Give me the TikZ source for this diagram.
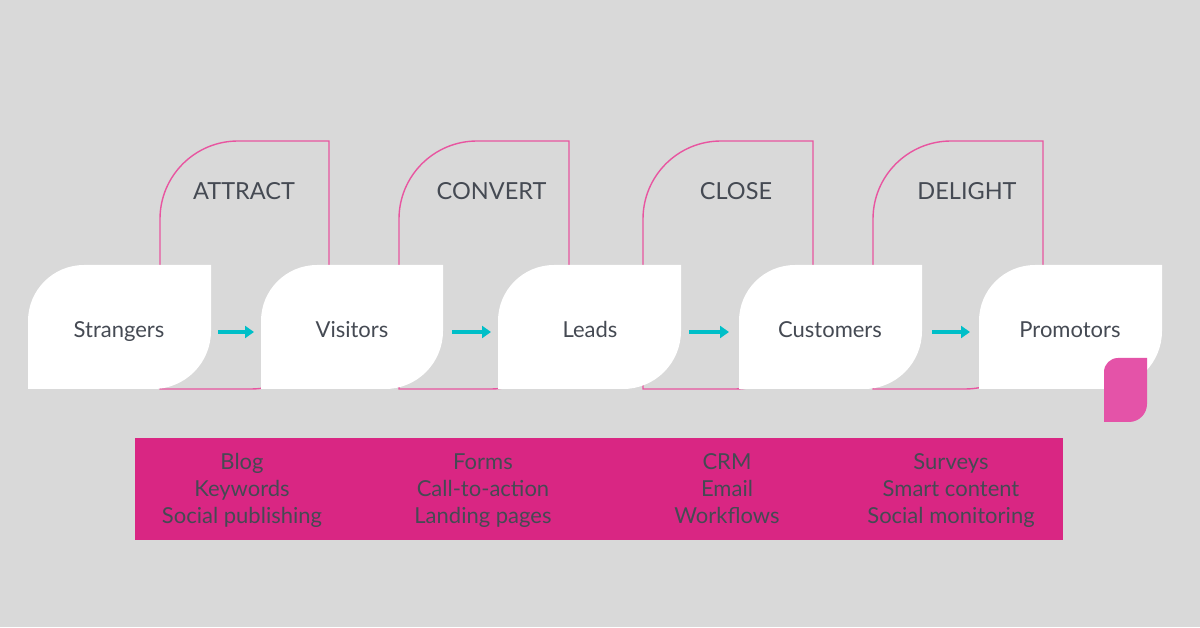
\documentclass[tikz,border=0pt]{standalone}
\usepackage{fontspec}
\setmainfont{Lato}
\usetikzlibrary{arrows.meta}
\definecolor{bggray}{HTML}{D9D9D9}
\definecolor{outlinepink}{HTML}{E855A0}
\definecolor{barpink}{HTML}{D92683}
\definecolor{tabpink}{HTML}{E453A8}
\definecolor{arrowcyan}{HTML}{00BFC8}
\definecolor{textgray}{HTML}{454A53}
\tikzset{
  outl/.style={draw=outlinepink, line width=1.4pt},
  stagebox/.style={inner sep=0pt, outer sep=0pt, minimum width=183pt, minimum height=124pt},
  stagelabel/.style={anchor=base, text=textgray, font=\fontsize{22}{26}\selectfont},
  phasetitle/.style={anchor=base, text=textgray, font=\fontsize{23.5}{28}\selectfont},
  tooltext/.style={anchor=base, text=textgray, font=\fontsize{22}{26}\selectfont},
  flowarrow/.style={draw=arrowcyan, line width=3.5pt, -{Triangle[length=9pt,width=12pt]}},
}
\newcommand{\phaseoutline}[2]{%
  \draw[outl] (#1,238) -- (#1,408) arc[start angle=180,end angle=90,radius=78pt]
    -- (#2,486) -- (#2,316) arc[start angle=0,end angle=-90,radius=78pt] -- cycle;}
\newcommand{\leaffill}[1]{%
  \fill[white] (#1.south west) -- ([yshift=-56pt]#1.north west)
    arc[start angle=180,end angle=90,radius=56pt]
    -- (#1.north east) -- ([yshift=58pt]#1.south east)
    arc[start angle=0,end angle=-90,radius=58pt] -- cycle;}
\begin{document}
\begin{tikzpicture}[x=1pt,y=1pt]
\fill[bggray] (0,0) rectangle (1200,627);
\useasboundingbox (0,0) rectangle (1200,627);

% stage boxes (empty, for geometry)
\node[stagebox] (s1) at (119.5,300) {};
\node[stagebox, minimum width=182pt] (s2) at (352,300) {};
\node[stagebox] (s3) at (589.5,300) {};
\node[stagebox] (s4) at (830.5,300) {};
\node[stagebox] (s5) at (1070.5,300) {};

% phase outlines
\phaseoutline{160}{329}
\phaseoutline{399}{569}
\phaseoutline{643}{813}
\phaseoutline{873}{1043}

% white leaves
\leaffill{s1}
\leaffill{s2}
\leaffill{s3}
\leaffill{s4}
\leaffill{s5}

% phase titles
\node[phasetitle] (p1) at (244,427) {ATTRACT};
\node[phasetitle] (p2) at (491.5,427) {CONVERT};
\node[phasetitle] (p3) at (736,427) {CLOSE};
\node[phasetitle] (p4) at (967,427) {DELIGHT};

% stage labels
\node[stagelabel] (t1) at (119,289) {Strangers};
\node[stagelabel] (t2) at (352,289) {Visitors};
\node[stagelabel] (t3) at (590,289) {Leads};
\node[stagelabel] (t4) at (830,289) {Customers};
\node[stagelabel] (t5) at (1070,289) {Promotors};

% arrows
\draw[flowarrow] ([shift={(7,-5)}]s1.east) -- ([shift={(-7,-5)}]s2.west);
\draw[flowarrow] ([shift={(9,-5)}]s2.east) -- ([shift={(-7,-5)}]s3.west);
\draw[flowarrow] ([shift={(8,-5)}]s3.east) -- ([shift={(-10,-5)}]s4.west);
\draw[flowarrow] ([shift={(10,-5)}]s4.east) -- ([shift={(-9,-5)}]s5.west);

% pink tab
\fill[tabpink] (1104,205) -- (1104,255) arc[start angle=180,end angle=90,radius=14pt]
  -- (1147,269) -- (1147,223) arc[start angle=0,end angle=-90,radius=18pt] -- cycle;

% tools bar
\node[fill=barpink, inner sep=0pt, minimum width=928pt, minimum height=102pt] (bar) at (599,138) {};
\node[tooltext] (b1) at (242,157) {Blog};
\node[tooltext] (b2) at (242,130) {Keywords};
\node[tooltext] (b3) at (242,103) {Social publishing};
\node[tooltext] (c1) at (483,157) {Forms};
\node[tooltext] (c2) at (483,130) {Call-to-action};
\node[tooltext] (c3) at (483,103) {Landing pages};
\node[tooltext] (d1) at (727,157) {CRM};
\node[tooltext] (d2) at (727,130) {Email};
\node[tooltext] (d3) at (727,103) {Workflows};
\node[tooltext] (e1) at (951,157) {Surveys};
\node[tooltext] (e2) at (951,130) {Smart content};
\node[tooltext] (e3) at (951,103) {Social monitoring};
\end{tikzpicture}
\end{document}
